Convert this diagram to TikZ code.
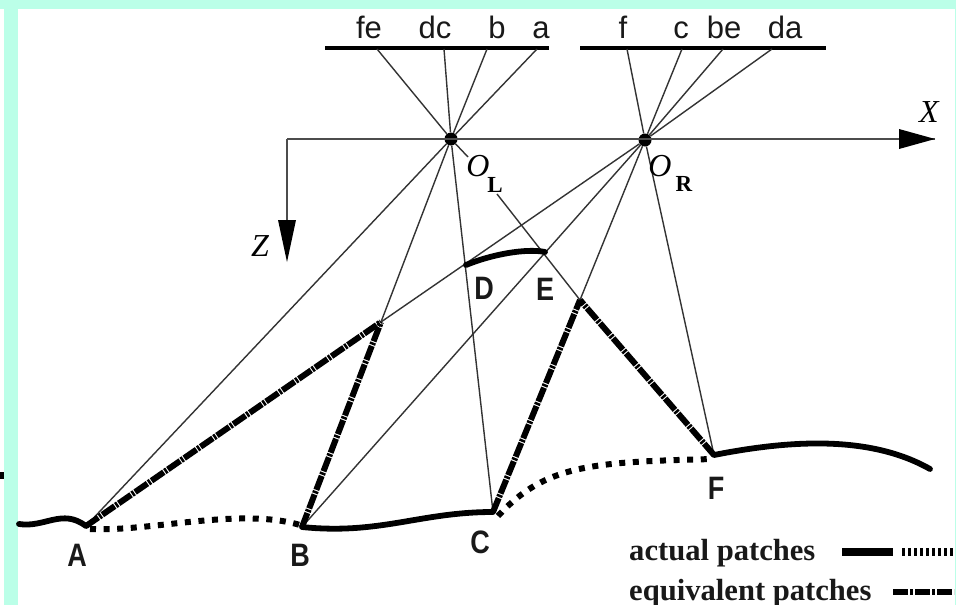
\documentclass[tikz,border=0pt]{standalone}
\usepackage{graphicx}
\usepackage{fontspec}
\setmainfont{Liberation Serif}
\newfontfamily\labfont{Liberation Sans}
\definecolor{bandcol}{HTML}{BBFFE8}
\newcommand{\tallbox}[1]{\scalebox{1}[1.2]{#1}}
\tikzset{
  thinray/.style={draw=black!80,line width=1.4pt},
  axisline/.style={draw=black!70,line width=1.9pt},
  plane/.style={draw=black,line width=4.6pt},
  solidpatch/.style={draw=black,line width=5.8pt,line cap=round},
  dottedpatch/.style={draw=black,line width=6pt,dash pattern=on 6pt off 7.6pt},
  equivpatch/.style={draw=black,line width=6pt,dash pattern=on 15pt off 1.2pt on 2.5pt off 1.2pt},
  planelabel/.style={font=\labfont\fontsize{31}{31}\selectfont,inner sep=0pt,anchor=base,text=black!90},
  ptlabel/.style={font=\labfont\bfseries\fontsize{27}{27}\selectfont,inner sep=0pt,text=black!90},
  axlabel/.style={font=\itshape\fontsize{32}{32}\selectfont,inner sep=0pt},
  sublabel/.style={font=\bfseries\fontsize{23}{23}\selectfont,inner sep=0pt},
  legendlabel/.style={font=\bfseries\fontsize{30.6}{30.6}\selectfont,inner sep=0pt,anchor=base west,text=black!90},
  focus/.style={circle,fill=black,inner sep=0pt,minimum size=13pt}
}
\begin{document}
\begin{tikzpicture}[x=1pt,y=-1pt]
\useasboundingbox (0,0) rectangle (956,605);
\fill[white] (0,0) rectangle (956,605);
\fill[bandcol] (0,0) rectangle (956,8.5);
\fill[bandcol] (4,0) rectangle (18,605);
\fill[bandcol] (954.5,0) rectangle (956,605);
\fill[black] (0,472) rectangle (4,479);

% named points
\coordinate (O) at (287,139);
\coordinate (Xtip) at (935,139);
\coordinate (Ztip) at (287,262);
\node[focus] (OL) at (451,139) {};
\node[focus] (OR) at (645,140) {};
\coordinate (A) at (86,526);
\coordinate (B) at (302,527);
\coordinate (C) at (493,512);
\coordinate (F) at (714,455);
\coordinate (G) at (381,322);
\coordinate (H) at (580,300);
\coordinate (D) at (466,265);
\coordinate (E) at (545,252);
\coordinate (P1a) at (325,48);
\coordinate (P1b) at (549,48);
\coordinate (P2a) at (580,48);
\coordinate (P2b) at (826,48);
\coordinate (fe) at (377,49);
\coordinate (dc) at (444,49);
\coordinate (bb) at (487,49);
\coordinate (aa) at (537,49);
\coordinate (ff) at (627,49);
\coordinate (cc) at (682,49);
\coordinate (be) at (723,49);
\coordinate (da) at (772,49);
\coordinate (OLa) at (468,157);
\coordinate (OLb) at (497,194);
\coordinate (Cd) at (498,516);
\coordinate (Fd) at (714,459);
\coordinate (Bd) at (90,529);
\coordinate (Be) at (300,525);
\coordinate (Fe) at (19,524);
\coordinate (Gend) at (930,469);

% image planes
\draw[plane] (P1a) -- (P1b);
\draw[plane] (P2a) -- (P2b);

% rays
\draw[thinray] (fe) -- (OL);
\draw[thinray] (dc) -- (OL);
\draw[thinray] (bb) -- (OL);
\draw[thinray] (aa) -- (OL);
\draw[thinray] (ff) -- (OR);
\draw[thinray] (cc) -- (OR);
\draw[thinray] (be) -- (OR);
\draw[thinray] (da) -- (OR);
\draw[thinray] (OL) -- (A);
\draw[thinray] (OL) -- (G);
\draw[thinray] (OL) -- (C);
\draw[thinray] (OL) -- (OLa);
\draw[thinray] (OLb) -- (H);
\draw[thinray] (OR) -- (G);
\draw[thinray] (OR) -- (B);
\draw[thinray] (OR) -- (H);
\draw[thinray] (OR) -- (F);

% axes
\draw[axisline] (O) -- (Xtip);
\draw[axisline] (O) -- (287,225);
\fill[black] (Xtip) -- (899,129) -- (899,149) -- cycle;
\fill[black] (Ztip) -- (278,220) -- (296,220) -- cycle;

% equivalent patches
\draw[equivpatch] (A) -- (G);
\draw[equivpatch] (B) -- (G);
\draw[equivpatch] (C) -- (H);
\draw[equivpatch] (F) -- (H);

% actual patches
\draw[solidpatch] (Fe) .. controls (45,528) and (62,508) .. (A);
\draw[dottedpatch] (Bd) .. controls (150,532) and (240,507) .. (Be);
\draw[solidpatch] (B) .. controls (380,535) and (420,512) .. (C);
\draw[dottedpatch] (Cd) .. controls (545,465) and (590,462) .. (Fd);
\draw[solidpatch] (F) .. controls (790,440) and (870,435) .. (Gend);
\draw[solidpatch] (D) .. controls (490,255) and (525,248) .. (E);

% labels
\node[planelabel] (lfe) at (369,38) {fe};
\node[planelabel] (ldc) at (435,38) {dc};
\node[planelabel] (lb)  at (497,38) {b};
\node[planelabel] (la)  at (541,38) {a};
\node[planelabel] (lf)  at (623,38) {f};
\node[planelabel] (lc)  at (681,38) {c};
\node[planelabel] (lbe) at (724,38) {be};
\node[planelabel] (lda) at (785,38) {da};
\node[axlabel] (lX) at (929,112) {X};
\node[axlabel] (lZ) at (260,246) {Z};
\node[axlabel] (lOL) at (478,166) {O};
\node[sublabel] (lOLs) at (495,185) {L};
\node[axlabel] (lOR) at (660,166) {O};
\node[sublabel] (lORs) at (684,184) {R};
\node[ptlabel] (lA) at (77,555) {\tallbox{A}};
\node[ptlabel] (lB) at (300,555) {\tallbox{B}};
\node[ptlabel] (lC) at (480,542) {\tallbox{C}};
\node[ptlabel] (lD) at (484,288) {\tallbox{D}};
\node[ptlabel] (lE) at (545,289) {\tallbox{E}};
\node[ptlabel] (lF) at (716,488) {\tallbox{F}};

% legend
\node[legendlabel] (leg1) at (629,560) {actual patches};
\node[legendlabel] (leg2) at (629,600) {equivalent patches};
\coordinate (k1a) at (842,552);
\coordinate (k1b) at (893,552);
\coordinate (k2a) at (902,552);
\coordinate (k2b) at (954,552);
\coordinate (k3a) at (893,592);
\coordinate (k3b) at (954,592);
\draw[draw=black,line width=8pt] (k1a) -- (k1b);
\draw[draw=black,line width=8pt,dash pattern=on 3pt off 3pt] (k2a) -- (k2b);
\draw[draw=black,line width=6pt,dash pattern=on 15pt off 2pt on 3pt off 2pt] (k3a) -- (k3b);
\end{tikzpicture}
\end{document}
